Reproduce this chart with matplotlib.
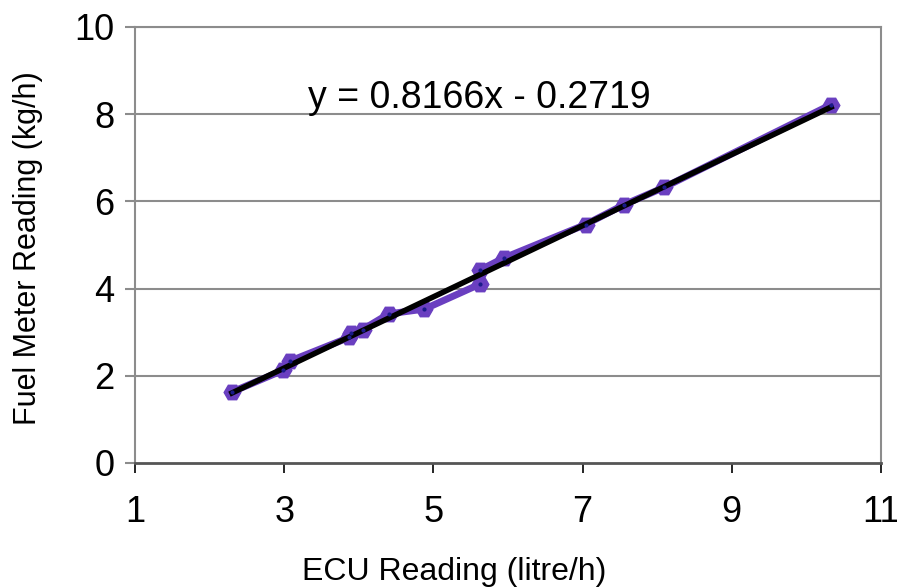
import numpy as np
import matplotlib.pyplot as plt

plt.rcParams['font.family'] = ['Liberation Sans', 'DejaVu Sans']

# ECU reading (litre/h) vs fuel meter reading (kg/h)
ecu = [2.30, 2.99, 3.08, 3.87, 3.90, 4.05, 4.40, 4.88, 5.62, 5.63, 5.94, 7.04, 7.55, 8.09, 10.33]
fuel = [1.63, 2.13, 2.34, 2.88, 2.98, 3.06, 3.42, 3.53, 4.10, 4.43, 4.70, 5.47, 5.92, 6.32, 8.22]

slope = 0.8166
intercept = -0.2719

x_ticks = [1, 3, 5, 7, 9, 11]
y_ticks = [0, 2, 4, 6, 8, 10]

fig = plt.figure(figsize=(8.97, 5.88), dpi=100)
ax = fig.add_axes([135 / 897, 1 - 463 / 588, 746 / 897, 436 / 588])

for y in y_ticks[1:]:
    ax.axhline(y, color='#8c8c8c', lw=1.5, zorder=0)

ax.plot(ecu, fuel, '-', color='#6a3fc0', lw=5, marker='H', markersize=12,
        markerfacecolor='#6a3fc0', markeredgecolor='#6a3fc0', zorder=2)
ax.plot(ecu, fuel, 'o', color='#1a1a8a', markersize=2, zorder=4)

fit_x = np.array([min(ecu), max(ecu)])
ax.plot(fit_x, slope * fit_x + intercept, color='black', lw=4, zorder=3)

fig.text(479 / 897, 1 - 98 / 588, 'y = 0.8166x - 0.2719', fontsize=27,
         ha='center', va='center')

ax.set_xlim(1, 11)
ax.set_ylim(0, 10)
ax.set_xticks(x_ticks)
ax.set_yticks(y_ticks)
ax.tick_params(axis='both', labelsize=26)
ax.tick_params(axis='x', length=7, width=1.2, color='black', pad=16)
ax.tick_params(axis='y', length=7, width=1.5, color='#8c8c8c', pad=8)

for side in ['left', 'top', 'right']:
    ax.spines[side].set_color('#8c8c8c')
    ax.spines[side].set_linewidth(1.5)
ax.spines['bottom'].set_color('#555555')
ax.spines['bottom'].set_linewidth(2)

ax.set_xlabel('ECU Reading (litre/h)', fontsize=23, va='center')
ax.set_ylabel('Fuel Meter Reading (kg/h)', fontsize=22, va='center')
ax.xaxis.set_label_coords(0.428, -0.25)
ax.yaxis.set_label_coords(-0.143, 0.493)

fig.savefig('out.png', dpi=100)
